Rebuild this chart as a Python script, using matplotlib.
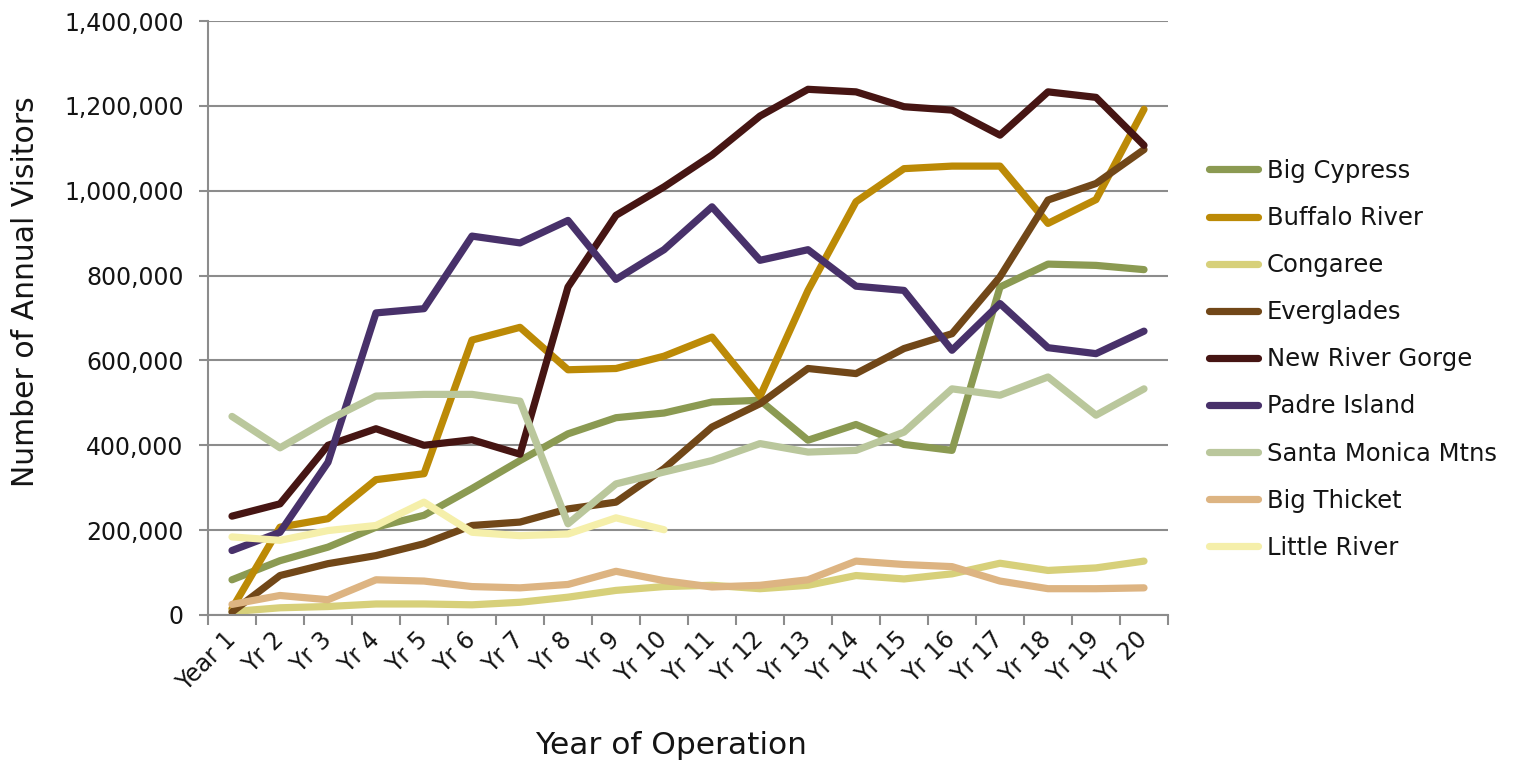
import matplotlib
matplotlib.use("Agg")
import matplotlib.pyplot as plt
import numpy as np

years = ["Year 1"] + [f"Yr {i}" for i in range(2, 21)]

big_cypress = [83000, 128000, 160000, 207000, 235000, 298000, 364000, 427000, 465000, 476000,
               502000, 506000, 412000, 449000, 402000, 388000, 773000, 827000, 824000, 814000]
buffalo_river = [15000, 207000, 227000, 319000, 333000, 648000, 678000, 578000, 581000, 610000,
                 655000, 515000, 765000, 974000, 1052000, 1058000, 1058000, 923000, 979000, 1192000]
congaree = [8000, 17000, 20000, 26000, 26000, 24000, 30000, 42000, 58000, 67000,
            70000, 62000, 70000, 93000, 85000, 97000, 122000, 105000, 111000, 127000]
everglades = [7000, 93000, 121000, 140000, 168000, 211000, 219000, 250000, 266000, 345000,
              443000, 498000, 581000, 569000, 628000, 663000, 797000, 978000, 1017000, 1097000]
new_river_gorge = [233000, 262000, 400000, 439000, 400000, 413000, 379000, 773000, 942000, 1009000,
                   1084000, 1176000, 1239000, 1233000, 1198000, 1190000, 1131000, 1233000, 1220000, 1107000]
padre_island = [152000, 195000, 360000, 712000, 722000, 893000, 877000, 930000, 791000, 861000,
                962000, 836000, 861000, 775000, 765000, 624000, 734000, 630000, 616000, 669000]
santa_monica = [468000, 394000, 459000, 516000, 520000, 520000, 504000, 215000, 309000, 337000,
                364000, 404000, 384000, 388000, 431000, 533000, 518000, 561000, 471000, 533000]
big_thicket = [25000, 46000, 36000, 83000, 80000, 67000, 64000, 72000, 103000, 81000,
               66000, 70000, 83000, 127000, 119000, 114000, 80000, 62000, 62000, 64000]
little_river = [184000, 176000, 199000, 211000, 266000, 195000, 187000, 191000, 229000, 201000]

series = [
    ("Big Cypress", big_cypress, "#8B9A52"),
    ("Buffalo River", buffalo_river, "#BC8A06"),
    ("Congaree", congaree, "#D7D07A"),
    ("Everglades", everglades, "#714718"),
    ("New River Gorge", new_river_gorge, "#461513"),
    ("Padre Island", padre_island, "#48316A"),
    ("Santa Monica Mtns", santa_monica, "#BAC79C"),
    ("Big Thicket", big_thicket, "#DDB482"),
    ("Little River", little_river, "#F5EFAA"),
]

plt.rcParams['font.family'] = ['DejaVu Sans']
txt_col = '#141414'

fig = plt.figure(figsize=(15.21, 7.62), dpi=100)
ax = fig.add_axes([208/1521, 1-615/762, 960/1521, 594/762])

x = np.arange(len(years))
for name, vals, col in series:
    ax.plot(x[:len(vals)], vals, color=col, lw=5.2, label=name,
            solid_capstyle='round', solid_joinstyle='round')

ax.set_xlim(-0.5, len(years) - 0.5)
ax.set_ylim(0, 1400000)
ax.set_yticks(np.arange(0, 1400001, 200000))
ax.yaxis.set_major_formatter(matplotlib.ticker.FuncFormatter(lambda v, p: f"{int(v):,}"))
ax.grid(axis='y', color='#8C8C8C', lw=1.5)
ax.set_axisbelow(True)

ax.set_xticks(x)
ax.set_xticklabels(years, rotation=45, ha='right', va='center', rotation_mode='anchor',
                   fontsize=17, color=txt_col)
ax.xaxis.set_minor_locator(matplotlib.ticker.FixedLocator(np.arange(-0.5, len(years), 1)))
ax.tick_params(axis='x', which='major', length=0, pad=15)
ax.tick_params(axis='x', which='minor', length=7, width=1.5, color='#8C8C8C', direction='out')
ax.tick_params(axis='y', length=6.5, width=1.5, color='#8C8C8C', labelsize=17,
               labelcolor=txt_col, pad=11)

for s in ['top', 'right']:
    ax.spines[s].set_visible(False)
for s in ['left', 'bottom']:
    ax.spines[s].set_color('#8C8C8C')
    ax.spines[s].set_linewidth(1.5)

ax.set_ylabel("Number of Annual Visitors", fontsize=21.5, color=txt_col, va='center', ha='center')
ax.yaxis.set_label_coords(-(208-25)/960, (615-292)/594)
ax.set_xlabel("Year of Operation", fontsize=22.5, color=txt_col, va='center', ha='center')
ax.xaxis.set_label_coords((671-208)/960, -(745-615)/594)

handles, labels = ax.get_legend_handles_labels()
fig.legend(handles, labels, loc='upper left', bbox_to_anchor=(1209/1521, 1-159/762),
           frameon=False, fontsize=17.5, handlelength=2.0, handletextpad=0.39,
           labelspacing=0.95, borderaxespad=0, borderpad=0, labelcolor=txt_col)

fig.savefig("out.png", dpi=100)
